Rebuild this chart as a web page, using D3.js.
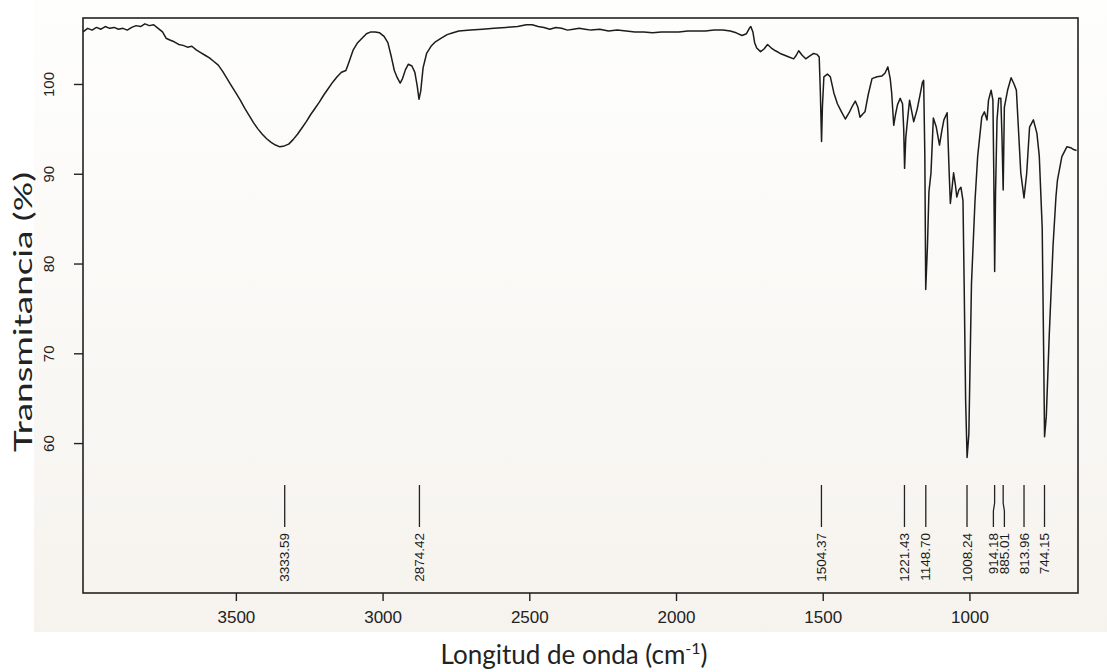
<!DOCTYPE html>
<html>
<head>
<meta charset="utf-8">
<script src="https://cdn.jsdelivr.net/npm/d3@7"></script>
<style>
  body { margin: 0; background: #fff; }
  svg { display: block; }
</style>
</head>
<body>
<div id="chart"></div>
<script>
// FTIR spectrum: wavenumber (cm-1) and transmittance (%)
const wavenumber = [
  4021, 4005, 3990, 3975, 3960, 3945, 3930, 3915, 3900, 3885, 3870, 3855, 3840, 3825, 3810, 3795,
  3780, 3765, 3750, 3738, 3725, 3710, 3695, 3680, 3665, 3650, 3635, 3620, 3605, 3590, 3575, 3560,
  3545, 3530, 3515, 3500, 3485, 3470, 3455, 3440, 3425, 3410, 3395, 3380, 3365, 3350, 3335, 3320,
  3305, 3290, 3275, 3260, 3245, 3230, 3215, 3200, 3185, 3170, 3155, 3140, 3125, 3115, 3100, 3085,
  3070, 3055, 3040, 3025, 3010, 2995, 2982, 2970, 2960, 2950, 2940, 2932, 2922, 2912, 2900, 2890,
  2882, 2876, 2870, 2862, 2850, 2835, 2820, 2800, 2780, 2760, 2740, 2700, 2660, 2620, 2580, 2540,
  2510, 2490, 2470, 2450, 2430, 2410, 2390, 2370, 2350, 2330, 2310, 2290, 2260, 2230, 2200, 2170,
  2140, 2110, 2080, 2050, 2020, 1990, 1960, 1930, 1900, 1870, 1840, 1815, 1795, 1775, 1760, 1750,
  1745, 1738, 1732, 1725, 1712, 1700, 1688, 1675, 1661, 1645, 1630, 1615, 1599, 1590, 1582, 1570,
  1558, 1545, 1531, 1520, 1512, 1508, 1504, 1501, 1496, 1484, 1474, 1462, 1450, 1436, 1423, 1410,
  1398, 1389, 1380, 1373, 1365, 1356, 1345, 1332, 1315, 1298, 1288, 1278, 1270, 1265, 1258, 1252,
  1245, 1236, 1228, 1224, 1221, 1217, 1211, 1204, 1197, 1190, 1178, 1167, 1160, 1156, 1152, 1149,
  1143, 1138, 1131, 1123, 1113, 1102, 1094, 1087, 1076, 1069, 1065, 1059, 1054, 1048, 1043, 1036,
  1029, 1022, 1018, 1013, 1008, 1002, 993, 981, 972, 958, 949, 940, 935, 926, 920, 917,
  914, 911, 906, 900, 893, 889, 885, 881, 870, 858, 848, 840, 825, 814, 805, 795,
  782, 770, 762, 752, 747, 744, 738, 728, 715, 705, 700, 685, 668, 655, 645, 635
]
const transmittance = [
  105.8, 106.2, 106.0, 106.3, 106.1, 106.4, 106.2, 106.3, 106.1, 106.2, 106.0, 106.3, 106.5, 106.4, 106.7, 106.5,
  106.6, 106.2, 105.8, 105.1, 104.9, 104.7, 104.4, 104.3, 104.1, 104.2, 103.8, 103.5, 103.2, 102.9, 102.5, 102.1,
  101.4, 100.6, 99.8, 99.0, 98.2, 97.3, 96.5, 95.7, 95.0, 94.4, 93.9, 93.5, 93.2, 93.0, 93.1, 93.3,
  93.8, 94.4, 95.1, 95.8, 96.6, 97.3, 98.0, 98.8, 99.5, 100.2, 100.8, 101.3, 101.5, 102.4, 103.8, 104.6,
  105.1, 105.6, 105.8, 105.8, 105.7, 105.3, 104.6, 103.0, 101.5, 100.7, 100.1, 100.6, 101.6, 102.2, 102.0, 101.3,
  99.8, 98.3, 99.2, 101.8, 103.4, 104.2, 104.7, 105.1, 105.5, 105.7, 105.9, 106.0, 106.1, 106.2, 106.3, 106.4,
  106.6, 106.6, 106.4, 106.3, 106.1, 106.3, 106.2, 106.0, 106.1, 106.2, 106.1, 106.0, 106.1, 105.9, 106.0, 105.9,
  105.8, 105.8, 105.7, 105.8, 105.8, 105.8, 105.9, 105.9, 105.9, 106.0, 106.0, 105.9, 105.7, 105.4, 105.6, 106.2,
  106.4, 105.8, 104.6, 104.0, 103.6, 103.9, 104.4, 104.0, 103.7, 103.4, 103.2, 103.0, 102.8, 103.2, 103.7, 103.2,
  102.8, 103.1, 103.4, 103.3, 103.0, 99.0, 93.6, 97.5, 100.8, 101.1, 100.8, 99.0, 97.8, 96.9, 96.1, 96.8,
  97.6, 98.1, 97.4, 96.3, 96.6, 96.9, 98.8, 100.6, 100.8, 100.9, 101.2, 101.9, 100.6, 99.0, 95.4, 96.6,
  97.7, 98.4, 97.8, 95.0, 90.6, 94.0, 96.0, 98.2, 97.0, 95.8, 97.2, 99.0, 100.2, 100.4, 92.0, 77.1,
  82.0, 88.0, 90.1, 96.2, 95.2, 93.2, 94.8, 96.0, 96.8, 90.1, 86.7, 88.5, 90.1, 88.8, 87.4, 88.2,
  88.5, 87.0, 77.8, 64.8, 58.4, 61.0, 77.8, 87.0, 91.9, 96.3, 96.9, 96.0, 98.2, 99.3, 98.2, 90.0,
  79.1, 88.0, 96.0, 98.4, 98.4, 94.0, 88.2, 97.4, 99.3, 100.7, 100.0, 99.3, 90.1, 87.3, 90.0, 95.2,
  96.0, 94.5, 92.0, 84.0, 70.0, 60.7, 63.0, 72.0, 82.0, 87.5, 89.3, 91.9, 93.0, 92.9, 92.7, 92.6
]

// peak picks printed along the bottom of the plot
const peakPositions = [3333.59, 2874.42, 1504.37, 1221.43, 1148.70, 1008.24, 914.18, 885.01, 813.96, 744.15]
const peakLabels = ['3333.59', '2874.42', '1504.37', '1221.43', '1148.70', '1008.24', '914.18', '885.01', '813.96', '744.15']

const xTicks = [3500, 3000, 2500, 2000, 1500, 1000]
const yTicks = [60, 70, 80, 90, 100]

const W = 1107
const H = 672
const frame = { left: 83, right: 1078, top: 18, bottom: 593 }

const svg = d3
  .select('#chart')
  .append('svg')
  .attr('width', W)
  .attr('height', H)

// paper tone behind the plot
const grad = svg
  .append('defs')
  .append('linearGradient')
  .attr('id', 'paper')
  .attr('x1', 0)
  .attr('y1', 0)
  .attr('x2', 0)
  .attr('y2', 1)
grad.append('stop').attr('offset', '0%').attr('stop-color', '#fefefd')
grad.append('stop').attr('offset', '100%').attr('stop-color', '#f6f3ee')

svg
  .append('rect')
  .attr('x', 34)
  .attr('y', 0)
  .attr('width', W - 34)
  .attr('height', 632)
  .attr('fill', 'url(#paper)')

const x = d3.scaleLinear().domain([4021, 630]).range([frame.left, frame.right])
const y = d3.scaleLinear().domain([43.3, 107.35]).range([frame.bottom, frame.top])

// axes
const xAxis = svg
  .append('g')
  .attr('transform', `translate(0, ${frame.bottom})`)
  .call(
    d3
      .axisBottom(x)
      .tickValues(xTicks)
      .tickFormat(d3.format('d'))
      .tickSize(8)
      .tickSizeOuter(0)
      .tickPadding(10)
  )

xAxis.select('.domain').remove()
xAxis.selectAll('line').attr('stroke', '#222').attr('stroke-width', 1.4)
xAxis
  .selectAll('text')
  .attr('fill', '#222')
  .style('font-family', "'Liberation Sans', Arial, sans-serif")
  .style('font-size', '17px')

const yAxis = svg
  .append('g')
  .attr('transform', `translate(${frame.left}, 0)`)
  .call(d3.axisLeft(y).tickValues(yTicks).tickFormat(d3.format('d')).tickSize(9).tickSizeOuter(0))

yAxis.select('.domain').remove()
yAxis.selectAll('line').attr('stroke', '#222').attr('stroke-width', 1.4)
yAxis
  .selectAll('text')
  .attr('fill', '#222')
  .attr('x', null)
  .attr('dy', null)
  .attr('transform', 'translate(-35, 0) rotate(-90)')
  .style('text-anchor', 'middle')
  .style('dominant-baseline', 'central')
  .style('font-family', "'Liberation Sans', Arial, sans-serif")
  .style('font-size', '15px')

// plot frame
svg
  .append('rect')
  .attr('x', frame.left)
  .attr('y', frame.top)
  .attr('width', frame.right - frame.left)
  .attr('height', frame.bottom - frame.top)
  .attr('fill', 'none')
  .attr('stroke', '#222')
  .attr('stroke-width', 1.6)

// spectrum
const spectrum = wavenumber.map((w, i) => ({ w, t: transmittance[i] }))

const line = d3
  .line()
  .x((d) => x(d.w))
  .y((d) => y(d.t))

svg
  .append('path')
  .datum(spectrum)
  .attr('d', line)
  .attr('fill', 'none')
  .attr('stroke', '#1c1c1c')
  .attr('stroke-width', 1.5)
  .attr('stroke-linejoin', 'round')

// spread crowded peak labels apart, keep ticks at the true position
const spreadLabels = (xs, gap) => {
  const pos = xs.slice()
  for (let k = 0; k < 30; k++) {
    for (let i = 1; i < pos.length; i++) {
      const d = pos[i] - pos[i - 1]
      if (d < gap) {
        const shift = (gap - d) / 2
        pos[i - 1] -= shift
        pos[i] += shift
      }
    }
  }
  return pos
}

const peakX = peakPositions.map((p) => x(p))
const labelX = spreadLabels(peakX, 11)

const peaks = svg
  .append('g')
  .selectAll('g')
  .data(peakLabels)
  .join('g')

peaks
  .append('path')
  .attr('d', (d, i) => `M${peakX[i]},485 V503 L${labelX[i]},511 V527`)
  .attr('fill', 'none')
  .attr('stroke', '#222')
  .attr('stroke-width', 1.3)

peaks
  .append('text')
  .attr('transform', (d, i) => `translate(${labelX[i]}, 533) rotate(-90)`)
  .style('text-anchor', 'end')
  .style('dominant-baseline', 'central')
  .style('font-family', "'Liberation Sans', Arial, sans-serif")
  .style('font-size', '13.5px')
  .attr('fill', '#1a1a1a')
  .text((d) => d)

// axis titles
svg
  .append('text')
  .attr('transform', 'translate(22, 312) rotate(-90)')
  .style('text-anchor', 'middle')
  .style('dominant-baseline', 'central')
  .style('font-family', 'Lato, sans-serif')
  .style('font-size', '25px')
  .attr('textLength', 280)
  .attr('lengthAdjust', 'spacingAndGlyphs')
  .attr('fill', '#222')
  .text('Transmitancia (%)')

const xTitle = svg
  .append('text')
  .attr('x', 574)
  .attr('y', 664)
  .style('text-anchor', 'middle')
  .style('font-family', 'Lato, sans-serif')
  .style('font-size', '26px')
  .attr('fill', '#222')

xTitle.append('tspan').text('Longitud de onda (cm')
xTitle.append('tspan').attr('dy', -10).style('font-size', '16px').text('-1')
xTitle.append('tspan').attr('dy', 10).text(')')
</script>
</body>
</html>
